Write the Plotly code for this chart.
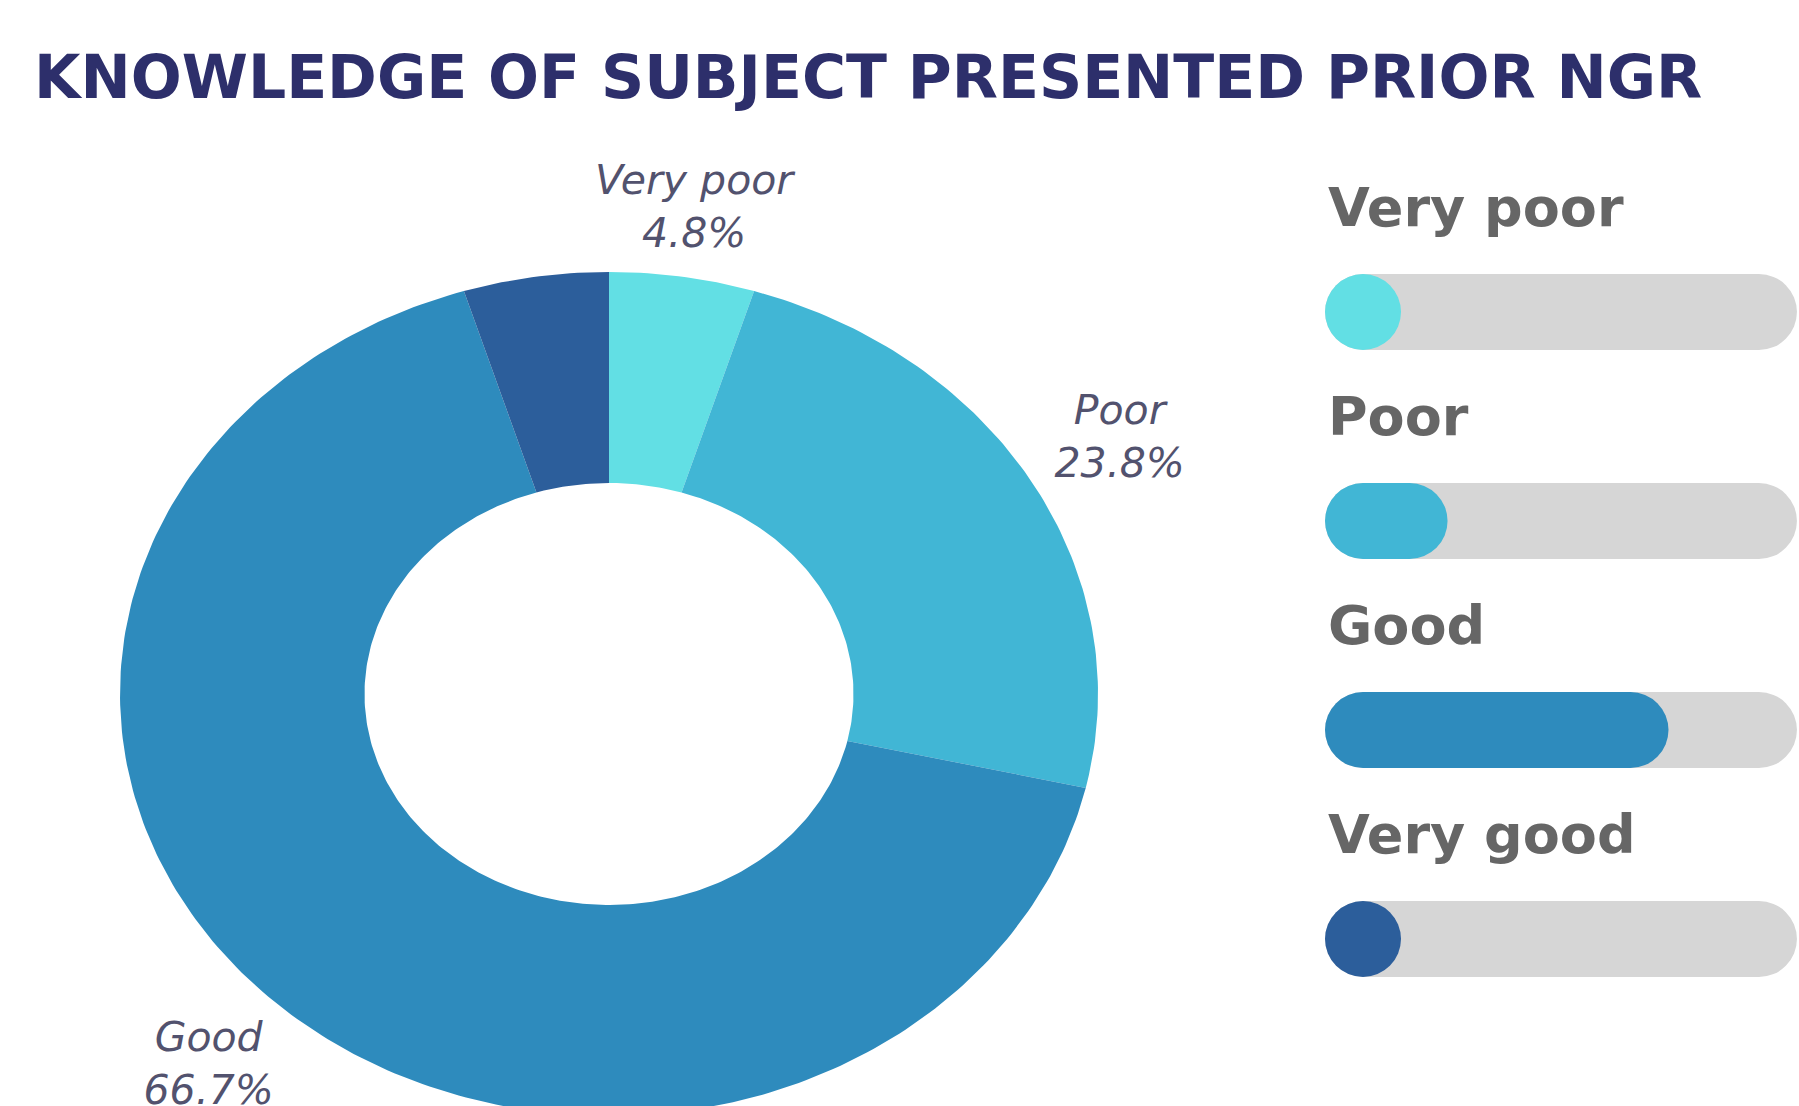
import numpy as np
import plotly.graph_objects as go

# ---------------- data ----------------
title_text = "KNOWLEDGE OF SUBJECT PRESENTED PRIOR NGR"
categories = ["Very poor", "Poor", "Good", "Very good"]
percentages = [4.8, 23.8, 66.7, 4.8]
slice_colors = ["#62DFE4", "#41B6D5", "#2E8BBD", "#2C5E9B"]
show_slice_label = [True, True, True, False]

# ---------------- style / layout constants ----------------
W, H = 1799, 1106
TRACK_COLOR = "#D6D6D6"
LABEL_RADIUS = [1.16, 1.205, 1.205, 1.2]   # label distance from centre (outer radius = 1)

# donut geometry (pixels)
CX, CY = 609, 694
RX, RY = 489, 422
HOLE = 0.5
DONUT_RIGHT_PX = 1218

# bar-legend geometry (pixels)
BAR_LEFT_PX = 1325
PX_PER_UNIT = 5.15
ROW_PX = 209
FIRST_ROW_PX = 312
BAR_H_PX = 76

fig = go.Figure()

# ---------------- donut (elliptical) ----------------
total = sum(percentages)
start = 0.0
for cat, val, col in zip(categories, percentages, slice_colors):
    a0 = start / total * 2 * np.pi
    a1 = (start + val) / total * 2 * np.pi
    n = max(int(400 * val / total), 20)
    th = np.linspace(a0, a1, n)
    xs = np.concatenate([np.sin(th), HOLE * np.sin(th[::-1])])
    ys = np.concatenate([np.cos(th), HOLE * np.cos(th[::-1])])
    fig.add_trace(go.Scatter(
        x=np.append(xs, xs[0]), y=np.append(ys, ys[0]),
        mode="lines", fill="toself", fillcolor=col,
        line=dict(width=0, color=col), xaxis="x", yaxis="y",
        hoverinfo="skip", name=cat))
    start += val

# slice labels
lab_x, lab_y, lab_t = [], [], []
start = 0.0
for cat, val, show, lr in zip(categories, percentages, show_slice_label, LABEL_RADIUS):
    mid = (start + val / 2) / total * 2 * np.pi
    if show:
        lab_x.append(lr * np.sin(mid))
        lab_y.append(lr * np.cos(mid))
        lab_t.append(f"{cat}<br>{val}%")
    start += val
fig.add_trace(go.Scatter(
    x=lab_x, y=lab_y, text=lab_t, mode="text", textposition="middle center",
    textfont=dict(family="DejaVu Sans", size=41, color="#52526e", style="italic"),
    xaxis="x", yaxis="y", cliponaxis=False, hoverinfo="skip"))

# ---------------- bar legend ----------------
idx = list(range(len(categories)))
MIN_LEN = BAR_H_PX / PX_PER_UNIT          # a bar is never shorter than its own height (round cap)
XMAX = (W - BAR_LEFT_PX) / PX_PER_UNIT
bar_w_units = BAR_H_PX / ROW_PX

fig.add_trace(go.Bar(
    y=idx, x=[XMAX - 0.4] * len(idx), base=0, orientation="h",
    width=bar_w_units, marker=dict(color=TRACK_COLOR, cornerradius="50%", line_width=0),
    xaxis="x2", yaxis="y2", hoverinfo="skip"))
fig.add_trace(go.Bar(
    y=idx, x=[max(v, MIN_LEN) for v in percentages], base=0, orientation="h",
    width=bar_w_units, marker=dict(color=slice_colors, cornerradius="50%", line_width=0),
    xaxis="x2", yaxis="y2", hoverinfo="skip"))

# category labels above bars
for i, cat in enumerate(categories):
    fig.add_annotation(
        x=(BAR_LEFT_PX + 1) / W, xref="paper", y=i - 0.5, yref="y2",
        text=cat, showarrow=False, xanchor="left", yanchor="middle",
        font=dict(family="DejaVu Sans", size=54, color="#666666", weight="bold"))

# ---------------- axes ----------------
x_lo = -CX / RX
x_hi = (DONUT_RIGHT_PX - CX) / RX
y_hi = CY / RY
y_lo = -(H - CY) / RY

top_units = FIRST_ROW_PX / ROW_PX
bot_units = (H - FIRST_ROW_PX) / ROW_PX

hidden = dict(visible=False, showgrid=False, zeroline=False, fixedrange=True)
fig.update_layout(
    width=W, height=H,
    margin=dict(l=0, r=0, t=0, b=0),
    paper_bgcolor="white", plot_bgcolor="white",
    showlegend=False, hovermode=False, barmode="overlay",
    xaxis=dict(domain=[0, DONUT_RIGHT_PX / W], range=[x_lo, x_hi], **hidden),
    yaxis=dict(domain=[0, 1], range=[y_lo, y_hi], **hidden),
    xaxis2=dict(domain=[BAR_LEFT_PX / W, 1], range=[0, XMAX], **hidden),
    yaxis2=dict(domain=[0, 1], range=[bot_units, -top_units], **hidden),
    title=dict(text=title_text, x=34 / W, xanchor="left", y=1 - 77 / H, yanchor="middle",
               font=dict(family="DejaVu Sans", size=60, color="#2d2f6b", weight="bold")),
)

fig.write_html(
    "out.html",
    config={"displayModeBar": False, "staticPlot": True},
    post_script="document.body.style.margin='0';document.body.style.overflow='hidden';",
)
